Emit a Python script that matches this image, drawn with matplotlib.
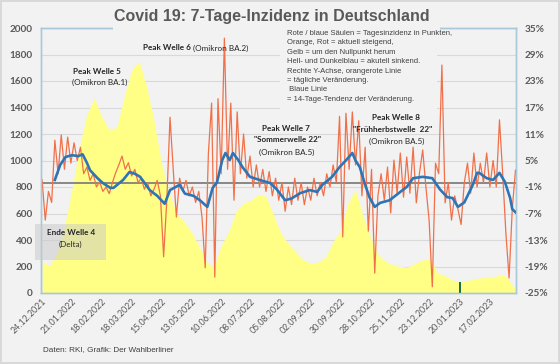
import numpy as np
import matplotlib
matplotlib.use("Agg")
import matplotlib.pyplot as plt
from matplotlib.patches import Rectangle

W, H = 560, 364

# x axis: days since 24.12.2021
tick_days = np.arange(0, 421, 28)
tick_labels = ["24.12.2021", "21.01.2022", "18.02.2022", "18.03.2022",
               "15.04.2022", "13.05.2022", "10.06.2022", "08.07.2022",
               "05.08.2022", "02.09.2022", "30.09.2022", "28.10.2022",
               "25.11.2022", "23.12.2022", "20.01.2023", "17.02.2023"]

# 7-Tage-Inzidenz (yellow area), weekly readings
inz_days = np.append(np.arange(0, 442, 7), 444)
inz_values = [240, 205, 300, 500, 780, 1100, 1350, 1470, 1330, 1230,
              1250, 1480, 1680, 1750, 1560, 1300, 980, 760, 600, 540,
              460, 360, 240, 190, 360, 460, 620, 680, 700, 745,
              730, 590, 450, 370, 310, 250, 225, 235, 270, 390,
              470, 680, 780, 580, 420, 290, 240, 210, 200, 195,
              225, 250, 255, 150, 130, 100, 80, 95, 110, 115,
              120, 130, 135, 60, 25]

# small dark mark at the bottom (20.01.2023)
mark_day = [392]
mark_value = [80]

# daily change in % (orange line), read every 3 days
change_days = np.arange(0, 445, 3)
change_pct = [0.6, -8.5, -2, -4.5, 9.6, 2, 10.8, 3, 10.3, 4.4, 9, 5, 8,
              2, 3.5, 0.5, 2, -1, 0.2, -2, -1, -2.5, 0,
              2.2, 4, 6, 3, 4.5, 1.5, 3, 0, 1, -1.5, 0, -3, -1.5, 0.5,
              -3, -16.8, -4, 14.8, 3, -7.8,
              1, -2, 0.5, -3, -1, -4.5, -2, -7.8, -19.3, 6.7,
              18, -21.4, 19, 2, 32.7, 3, 18, -4, 16, 2, 11, 1,
              6, -1, 4, -1, 3, -2, 2.5, -3, 1, -4, 0, -6.5, -1, -5,
              1, -4, 0, -5, -1, -4, 1, -3, 0, -3, 2, -1, 4, 0,
              15, -12.3, 15.7, 3, 16, 4, 14, -3, 8, -11, 3, -20.5,
              -3, 2, -4, 3.5, -6.9, 5.1, -2.4, 6.7, -3.3, 5.8, -2.4, 8,
              -4.6, 2.2, 7.4, -1, -8.5,
              -23.6, 4.4, 2, 26.6,
              -4.6, 0, -8.5, -3, -6, -9.5, 0, 4.4, -2.4, 6.7, -1, 4.4,
              0, 6.7, -1, 5, -1, 14.2, 2, -11.4, -21.6, -6, 2.8]

# 14-Tage-Tendenz (blue line)
trend_days = [12, 17, 22, 28, 34, 38, 42, 45, 52, 57,
              64, 67, 76, 82, 87, 92, 101, 108, 115, 120,
              123, 129, 134, 142, 148, 155, 160, 164, 169, 172,
              176, 179, 184, 188, 195, 204, 214, 220, 228, 234,
              242, 251, 258, 263, 272, 279, 286, 291, 294, 298,
              303, 307, 312, 317, 326, 336, 342, 348, 357, 366,
              373, 380, 385, 390, 396, 404, 408, 410, 417, 423,
              429, 434, 439, 441, 444]
trend_pct = [0.6, 4.0, 5.8, 6.2, 6.0, 6.4, 4.5, 2.8, 1.0, -0.1,
             -1.2, -1.2, 0.6, 2.4, 2.0, 1.3, -1.7, -3.0, -4.8, -1.7,
             -1.3, -0.5, -2.5, -3.0, -4.0, -5.5, -1.2, 0.0, 5.1, 6.7,
             5.1, 6.7, 5.1, 3.5, 1.3, 0.6, -0.1, -1.5, -4.0, -3.6,
             -2.4, -1.7, -2.1, -0.5, 1.3, 3.5, 5.3, 6.7, 5.0, 3.5,
             -0.5, -3.3, -5.5, -4.6, -4.0, -2.1, -1.0, 1.0, 1.3, 1.0,
             -1.5, -3.3, -3.5, -5.5, -4.5, -0.5, 2.2, 2.2, 1.0, 0.6,
             2.2, 0.2, -3.5, -6.0, -6.7]

legend_lines = ["Rote / blaue Säulen = Tagesinzidenz in Punkten,",
                "Orange, Rot = aktuell steigend,",
                "Gelb = um den Nullpunkt herum",
                "Hell- und Dunkelblau = akutell sinkend.",
                "Rechte Y-Achse, orangerote Linie",
                "= tägliche Veränderung.",
                " Blaue Linie",
                "= 14-Tage-Tendenz der Veränderung."]

BG = "#F2F2F2"
GREY = "#595959"
SPINE = "#A9C8DA"


def fx(x):
    return x / W


def fy(y):
    return 1 - y / H


fig = plt.figure(figsize=(W / 100, H / 100), dpi=100)
fig.patch.set_facecolor(BG)
fig.patch.set_edgecolor("#D9D9D9")
fig.patch.set_linewidth(1.5)

ax = fig.add_axes([fx(41), fy(293), fx(516) - fx(41), fy(28) - fy(293)])
ax.set_facecolor(BG)
ax.fill_between(inz_days, inz_values, color="#FFFF85", lw=0, zorder=2)
ax.bar(mark_day, mark_value, width=1.3, color="#1F6E4A", zorder=3)
ax.set_xlim(-1, 444.5)
ax.set_ylim(0, 2000)
ax.set_yticks(np.arange(0, 2001, 200))
ax.yaxis.grid(True, color="#D9D9D9", lw=0.8)
ax.set_axisbelow(True)
ax.set_xticks(tick_days)
ax.set_xticklabels(tick_labels, rotation=45, ha="right", rotation_mode="anchor",
                   fontsize=6.4, color=GREY, family="Lato")
ax.tick_params(axis="x", length=0, pad=3)
ax.tick_params(axis="y", length=0, pad=6, labelsize=7.2, labelcolor=GREY)
for lab in ax.get_yticklabels():
    lab.set_fontfamily("Lato")
    lab.set_fontweight("bold")
for s in ax.spines.values():
    s.set_color(SPINE)
    s.set_linewidth(1)

ax2 = ax.twinx()
ax2.set_zorder(ax.get_zorder() + 1)
ax2.patch.set_visible(False)
ax2.axhline(0, color="#7F7F7F", lw=1.3, zorder=1)
ax2.plot(change_days, change_pct, color="#F0704A", lw=0.9, zorder=2)
ax2.plot(trend_days, trend_pct, color="#2E75B6", lw=1.9, zorder=3)
ax2.set_ylim(-25, 35)
ax2.set_yticks(np.arange(-25, 36, 6))
ax2.set_yticklabels([f"{v}%" for v in range(-25, 36, 6)])
ax2.tick_params(axis="y", length=0, pad=6, labelsize=7.2, labelcolor=GREY)
for lab in ax2.get_yticklabels():
    lab.set_fontfamily("Lato")
    lab.set_fontweight("bold")
for s in ax2.spines.values():
    s.set_color(SPINE)
    s.set_linewidth(1)

# background patches behind the title and the explanation text
fig.add_artist(Rectangle((fx(113), fy(31)), fx(440) - fx(113), fy(4) - fy(31),
                         transform=fig.transFigure, color=BG, lw=0, zorder=5))
fig.add_artist(Rectangle((fx(280), fy(110)), fx(437) - fx(280), fy(31) - fy(110),
                         transform=fig.transFigure, color=BG, lw=0, zorder=5))
# box around "Ende Welle 4"
fig.add_artist(Rectangle((fx(35), fy(260)), fx(106) - fx(35), fy(224) - fy(260),
                         transform=fig.transFigure, color="#C8C8C8", alpha=0.5,
                         lw=0, zorder=5))

fig.text(fx(272), fy(17), "Covid 19: 7-Tage-Inzidenz in Deutschland",
         ha="center", va="center", fontsize=11.5, fontweight="bold",
         color=GREY, family="Liberation Sans", zorder=6)

for k, line in enumerate(legend_lines):
    fig.text(fx(287), fy(33.5 + 9.4 * k), line, ha="left", va="center",
             fontsize=5.5, color="#404040", family="Liberation Sans", zorder=6)

ann = dict(ha="center", va="center", fontsize=5.9, color="#262626",
           family="Lato", zorder=6)
fig.text(fx(97), fy(72), "Peak Welle 5", fontweight="bold", **ann)
fig.text(fx(100), fy(82), "(Omikron BA.1)", **ann)
fig.text(fx(143), fy(48), "Peak Welle 6", fontweight="bold",
         **{**ann, "ha": "left"})
fig.text(fx(193), fy(48), "(Omikron BA.2)", **{**ann, "ha": "left"})
fig.text(fx(286), fy(128), "Peak Welle 7", fontweight="bold", **ann)
fig.text(fx(287), fy(140), '"Sommerwelle 22"', fontweight="bold", **ann)
fig.text(fx(287), fy(152), "(Omikron BA.5)", **ann)
fig.text(fx(396), fy(118), "Peak Welle 8", fontweight="bold", **ann)
fig.text(fx(393), fy(129), '"Frühherbstwelle  22"', fontweight="bold", **ann)
fig.text(fx(397), fy(141), "(Omikron BA.5)", **ann)
fig.text(fx(47), fy(233), "Ende Welle 4", fontweight="bold",
         **{**ann, "ha": "left"})
fig.text(fx(70), fy(244), "(Delta)", **ann)

fig.text(fx(43), fy(350), "Daten: RKI, Grafik: Der Wahlberliner", ha="left",
         va="center", fontsize=5.9, color="#404040", family="Liberation Sans")

fig.savefig("out.png", dpi=100, facecolor=fig.get_facecolor())
